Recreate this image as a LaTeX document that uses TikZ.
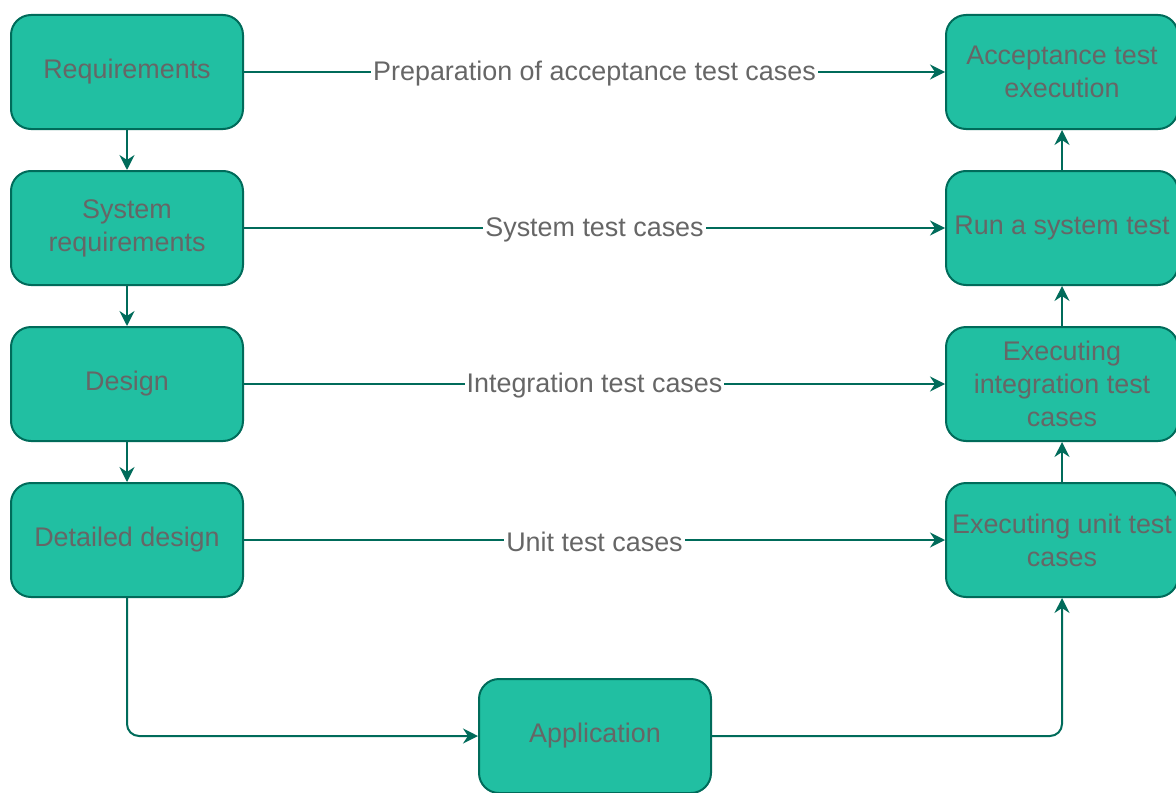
\documentclass[tikz,border=0pt]{standalone}
\usepackage{fontspec}
\setmainfont{Liberation Sans}
\usepackage{xcolor}
\usetikzlibrary{arrows.meta, positioning}

\definecolor{boxfill}{HTML}{21BFA2}
\definecolor{boxline}{HTML}{006B5A}
\definecolor{greytext}{HTML}{666666}

\begin{document}
\begin{tikzpicture}[x=0.5pt, y=-0.5pt,
    phase/.style={draw=boxline, fill=boxfill, line width=1pt, rounded corners=10pt,
        minimum width=116pt, minimum height=57pt, align=center, inner sep=1pt,
        text=greytext, font=\fontsize{13.45}{16.5}\selectfont},
    flow/.style={draw=boxline, line width=1pt, -{Stealth[length=7.5pt, width=7.5pt, inset=2.5pt]}},
    tag/.style={fill=white, inner sep=1pt, yshift=-1pt, text=greytext, font=\fontsize{13.45}{16.5}\selectfont}]
                        \useasboundingbox (0, 0) rectangle (1176, 792);
                        % left side
                        \node[phase] (req) at (127, 72) {Requirements};
                        \node[phase] (sys) at (127, 228) {System\\requirements};
                        \node[phase] (des) at (127, 384) {Design};
                        \node[phase] (det) at (127, 540) {Detailed design};
                        % right side
                        \node[phase] (acc) at (1062, 72) {Acceptance test\\execution};
                        \node[phase] (run) at (1062, 228) {Run a system test};
                        \node[phase] (int) at (1062, 384) {Executing\\integration test\\cases};
                        \node[phase] (unit) at (1062, 540) {Executing unit test\\cases};
                        % bottom
                        \node[phase] (app) at (595, 736) {Application};
                        \draw
                        (req) edge[flow] node[tag]{Preparation of acceptance test cases} (acc)
                        (sys) edge[flow] node[tag]{System test cases} (run)
                        (des) edge[flow] node[tag]{Integration test cases} (int)
                        (det) edge[flow] node[tag]{Unit test cases} (unit)
                        (req) edge[flow] (sys)
                        (sys) edge[flow] (des)
                        (des) edge[flow] (det)
                        (unit) edge[flow] (int)
                        (int) edge[flow] (run)
                        (run) edge[flow] (acc);
                        \draw[flow, rounded corners=6pt] (det.south) |- (app.west);
                        \draw[flow, rounded corners=6pt] (app.east) -| (unit.south);
                    \end{tikzpicture}
\end{document}
